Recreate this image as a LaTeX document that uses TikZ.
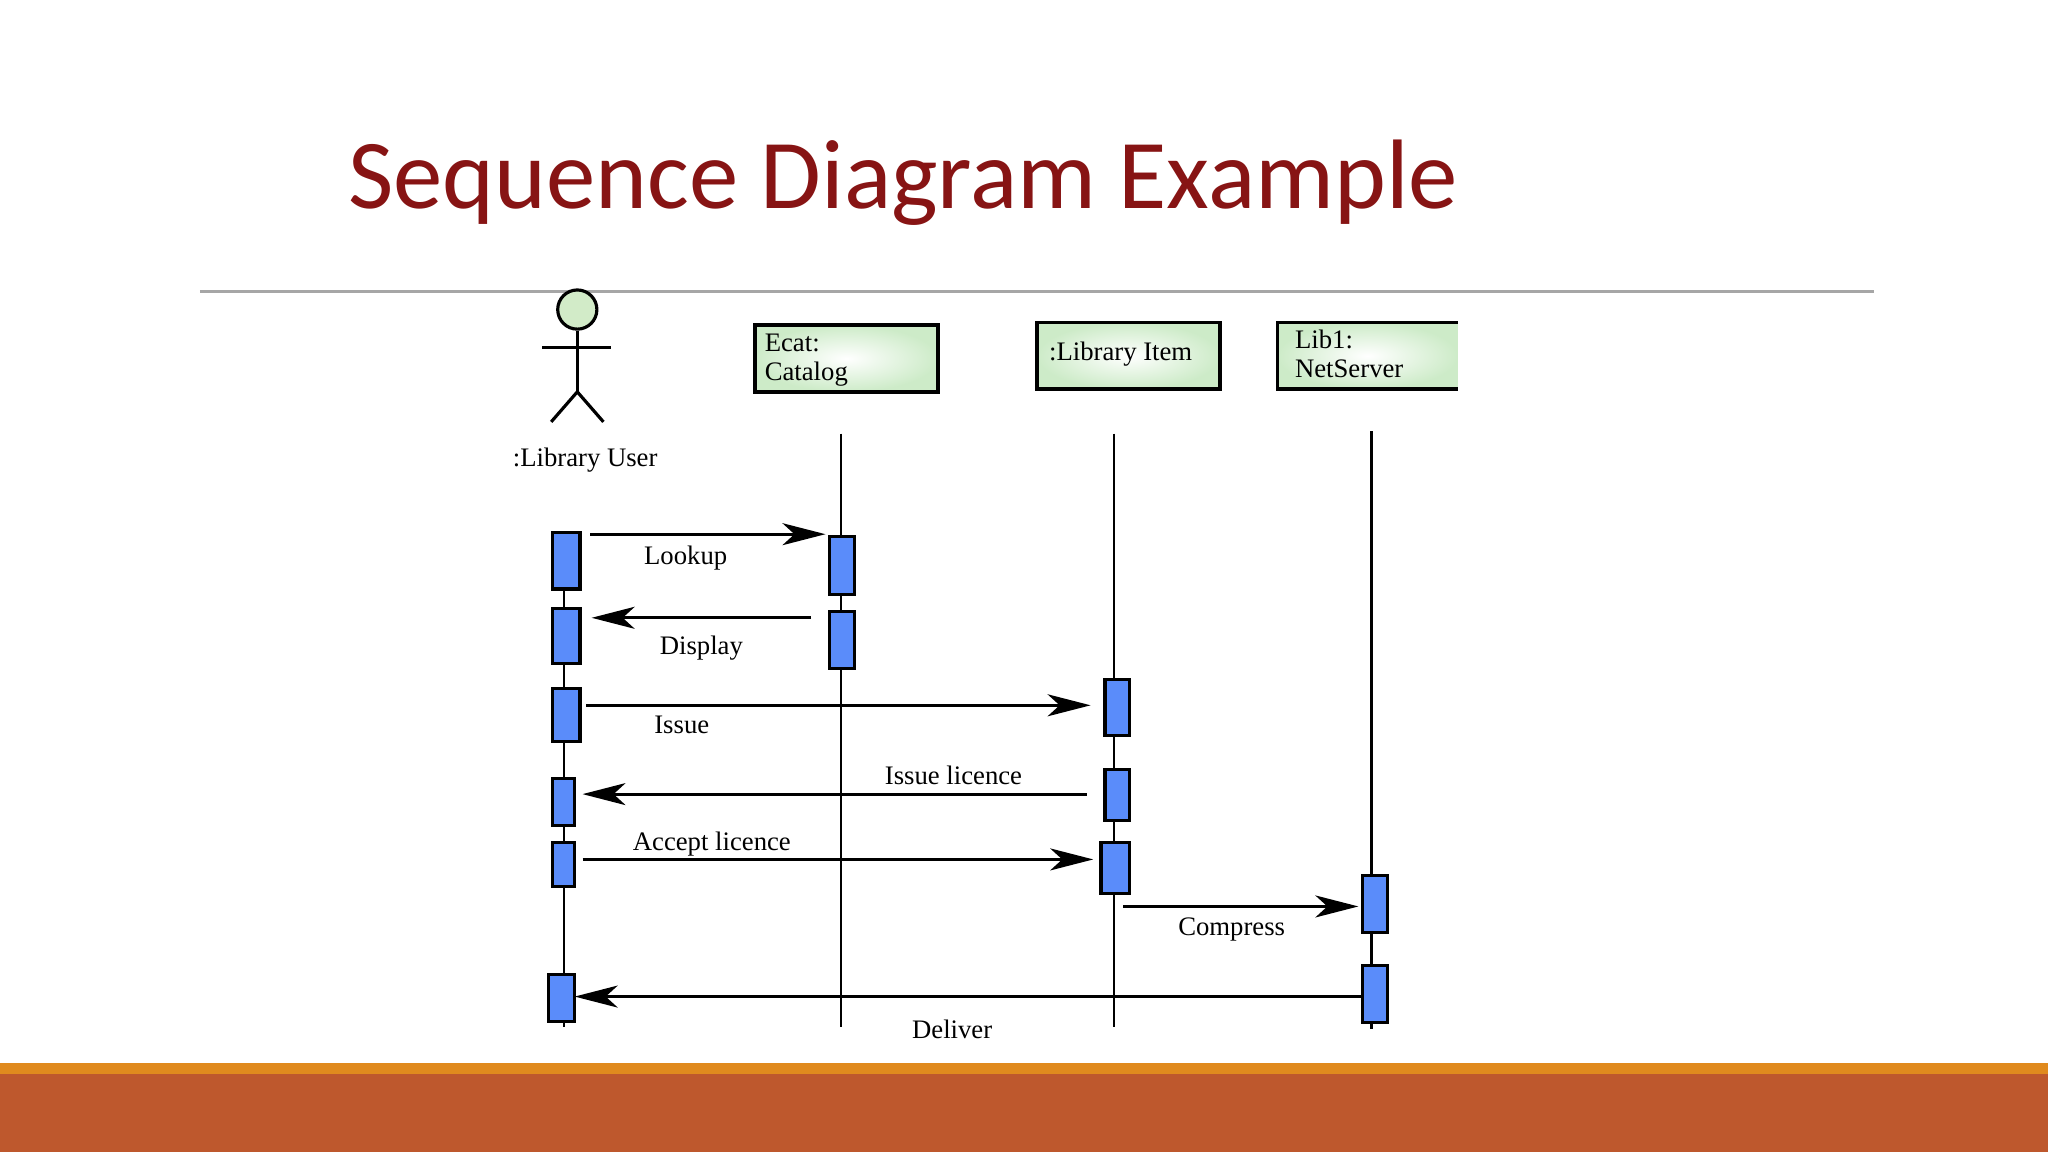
\documentclass[tikz,border=0pt]{standalone}
\usepackage{fontspec}
\setmainfont{Liberation Serif}
\newfontfamily\titlefont{Carlito}
\usetikzlibrary{arrows.meta}
\definecolor{titlered}{RGB}{135,20,20}
\definecolor{actblue}{RGB}{90,140,250}
\definecolor{boxgreen}{RGB}{205,235,200}
\definecolor{headgreen}{RGB}{210,235,200}
\definecolor{stripe}{RGB}{224,138,30}
\definecolor{band}{RGB}{190,88,45}
\begin{document}
\begin{tikzpicture}[x=0.013061cm,y=-0.013061cm,
  life/.style={line width=0.7pt},
  act/.style={draw=black,line width=0.9pt,fill=actblue},
  obj/.style={inner color=white,outer color=boxgreen},
  msg/.style={line width=0.8pt,-{Stealth[length=0.43cm,width=0.22cm,inset=0.12cm]}},
  lbl/.style={font=\fontsize{7.6}{9}\selectfont,inner sep=0pt},
  otxt/.style={font=\fontsize{7.6}{8.4}\selectfont,inner sep=0pt,align=left,anchor=north west}]
\useasboundingbox (0,0) rectangle (1568,882);
% title
\node[anchor=base west,inner sep=0pt,text=titlered,font=\titlefont\fontsize{28.1}{32}\selectfont] (title) at (266,160) {Sequence Diagram Example};
\draw[gray!70,line width=0.8pt] (153,223) -- (1435,223);
% bottom bands
\fill[stripe] (0,814) rectangle (1568,822);
\fill[band] (0,822) rectangle (1568,882);
% actor
\node[circle,draw=black,line width=0.9pt,fill=headgreen,minimum size=30*0.013061cm,inner sep=0pt] (head) at (442,237) {};
\coordinate (hip) at (442,300);
\draw[line width=0.9pt] (head.south) -- (hip);
\draw[line width=0.9pt] (415,266) -- (468,266);
\draw[line width=0.9pt] (422,323) -- (hip) -- (462,323);
\node[lbl] (user) at (448,352) {:Library User};
% objects
\shade[obj] (578,249) rectangle (718,300);
\draw[line width=1pt] (578,249) rectangle (718,300);
\node[otxt] (ecat) at (585,255) {Ecat:\\Catalog};
\shade[obj] (794,247) rectangle (934,298);
\draw[line width=1pt] (794,247) rectangle (934,298);
\node[lbl] (item) at (858,271) {:Library Item};
\shade[obj] (978,247) rectangle (1116,298);
\draw[line width=1pt] (1116,247) -- (978,247) -- (978,298) -- (1116,298);
\node[otxt] (net) at (991,252) {Lib1:\\NetServer};
% lifelines
\coordinate (u1) at (432,407); \coordinate (u2) at (432,786);
\coordinate (e1) at (644,332); \coordinate (e2) at (644,786);
\coordinate (i1) at (853,332); \coordinate (i2) at (853,786);
\coordinate (n1) at (1050,330); \coordinate (n2) at (1050,788);
\draw[life] (u1) -- (u2);
\draw[life] (e1) -- (e2);
\draw[life] (i1) -- (i2);
\draw[life] (n1) -- (n2);
% activations
\draw[act] (423,408) rectangle (444,451);
\draw[act] (423,466) rectangle (444,508);
\draw[act] (423,527) rectangle (444,568);
\draw[act] (423,596) rectangle (440,632);
\draw[act] (423,645) rectangle (440,679);
\draw[act] (420,746) rectangle (440,782);
\draw[act] (635,411) rectangle (654,455);
\draw[act] (635,468) rectangle (654,512);
\draw[act] (846,520) rectangle (865,563);
\draw[act] (846,589) rectangle (865,628);
\draw[act] (843,645) rectangle (865,684);
\draw[act] (1043,670) rectangle (1062,714);
\draw[act] (1043,739) rectangle (1062,783);
% messages
\coordinate (m1a) at (452,409); \coordinate (m1b) at (632,409);
\draw[msg] (m1a) -- (m1b);
\node[lbl] (l1) at (525,427) {Lookup};
\coordinate (m2a) at (621,473); \coordinate (m2b) at (453,473);
\draw[msg] (m2a) -- (m2b);
\node[lbl] (l2) at (537,496) {Display};
\coordinate (m3a) at (449,540); \coordinate (m3b) at (835,540);
\draw[msg] (m3a) -- (m3b);
\node[lbl] (l3) at (522,555) {Issue};
\coordinate (m4a) at (832,608); \coordinate (m4b) at (446,608);
\draw[msg] (m4a) -- (m4b);
\node[lbl] (l4) at (730,594) {Issue licence};
\coordinate (m5a) at (446,658); \coordinate (m5b) at (837,658);
\draw[msg] (m5a) -- (m5b);
\node[lbl] (l5) at (545,646) {Accept licence};
\coordinate (m6a) at (860,694); \coordinate (m6b) at (1040,694);
\draw[msg] (m6a) -- (m6b);
\node[lbl] (l6) at (943,712) {Compress};
\coordinate (m7a) at (1043,763); \coordinate (m7b) at (440,763);
\draw[msg] (m7a) -- (m7b);
\node[lbl] (l7) at (729,788) {Deliver};
\end{tikzpicture}
\end{document}
